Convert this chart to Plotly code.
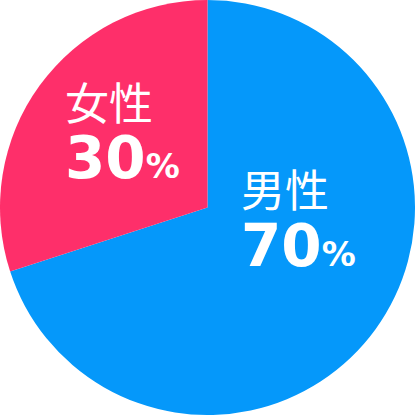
import plotly.graph_objects as go

# データ
labels = ["男性", "女性"]
values = [70, 30]
colors = ["#0598FA", "#FE2F6A"]

fig = go.Figure(
    go.Pie(
        labels=labels,
        values=values,
        sort=False,
        direction="clockwise",
        rotation=0,
        textinfo="none",
        hoverinfo="label+percent",
        marker=dict(colors=colors, line=dict(width=0)),
        domain=dict(x=[0, 1], y=[0, 1]),
        showlegend=False,
    )
)

# ラベル位置（元画像に合わせる）: (x, 名前のy, 数字のy)
label_pos = {"男性": (0.576, 0.547, 0.408), "女性": (0.152, 0.757, 0.619)}
for lab, val in zip(labels, values):
    x, y_name, y_val = label_pos[lab]
    fig.add_annotation(
        x=x, y=y_name, xref="paper", yref="paper",
        xanchor="left", yanchor="middle", showarrow=False,
        text=lab,
        font=dict(family="Noto Sans CJK JP", size=44, color="white"),
    )
    fig.add_annotation(
        x=x, y=y_val, xref="paper", yref="paper",
        xanchor="left", yanchor="middle", showarrow=False,
        text=f"<b>{val}<span style='font-size:34px'>%</span></b>",
        font=dict(family="DejaVu Sans", size=58, color="white"),
    )

fig.update_layout(
    width=415, height=415,
    margin=dict(t=0, l=0, r=0, b=0),
    paper_bgcolor="white",
)

fig.write_html(
    "out.html",
    config={"displayModeBar": False},
    post_script="document.body.style.margin='0';",
)
